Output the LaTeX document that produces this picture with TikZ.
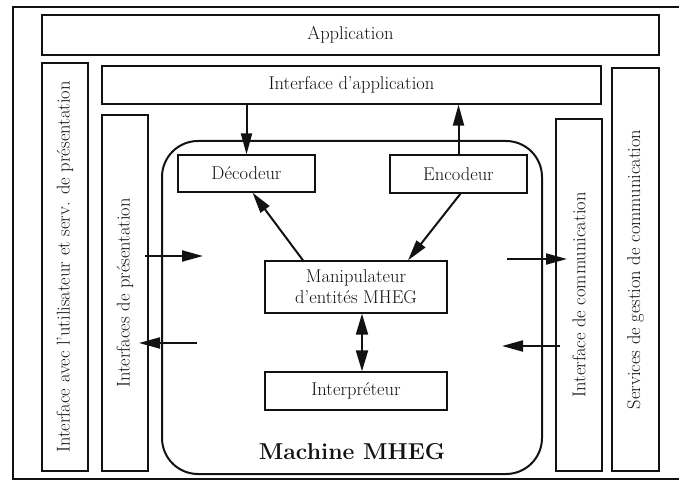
\documentclass[tikz,border=0pt]{standalone}
\usepackage{tikz}
\usetikzlibrary{arrows.meta, calc}
\definecolor{mhegInk}{RGB}{18,18,18}
\tikzset{
  % plain layer box; the vertical ones turn their text by 90 degrees
  layer/.style={
    draw=mhegInk, line width=1.2pt, inner sep=0pt,
    align=center, text=mhegInk, font=\fontsize{18.5}{21}\selectfont
  },
  vlayer/.style={layer, rotate=90},
  part/.style={layer, line width=1.3pt},
  % the rounded machine outline
  engine/.style={draw=mhegInk, line width=2pt, rounded corners=36pt, inner sep=0pt},
  % arrows
  flow/.style={-{Triangle[length=21pt,width=11pt]}, draw=mhegInk, line width=2pt},
  biflow/.style={{Triangle[length=21pt,width=12pt]}-{Triangle[length=21pt,width=12pt]},
                 draw=mhegInk, line width=2pt},
  title/.style={font=\fontsize{23}{27}\selectfont\bfseries, text=mhegInk, inner sep=1pt},
}

\begin{document}
\begin{tikzpicture}[x=1pt, y=-1pt]
\useasboundingbox (0,0) rectangle (679,481);

% ============================ frame and top layers =========================
\draw[draw=mhegInk, line width=1.8pt] (679,7) -- (13,7) -- (13,479) -- (679,479);

\node[layer, minimum width=617, minimum height=40] (app)   at (350.5,35)  {Application};
\node[layer, minimum width=499, minimum height=38] (appif) at (351.5,85)  {Interface d'application};

% ============================== side layers ================================
\node[vlayer, minimum width=408, minimum height=46] (user) at (65,267)
      {Interface avec l'utilisateur et serv. de présentation};
\node[vlayer, minimum width=356, minimum height=46] (pres) at (125,293)
      {Interfaces de présentation};
\node[vlayer, minimum width=352, minimum height=46] (comm) at (579,295)
      {Interface de communication};
\node[vlayer, minimum width=403, minimum height=47] (serv) at (635.5,269.5)
      {Services de gestion de communication};

% ============================== MHEG machine ===============================
\node[engine, minimum width=380, minimum height=333] (machine) at (352,307.5) {};
\node[title] (mtitle) at (352,452) {Machine MHEG};

\node[part, minimum width=137, minimum height=37] (dec)    at (246.5,173.5) {Décodeur};
\node[part, minimum width=137, minimum height=38] (enc)    at (458.5,174)   {Encodeur};
\node[part, minimum width=182, minimum height=52] (manip)  at (356,287)
      {Manipulateur\\d'entités MHEG};
\node[part, minimum width=182, minimum height=38] (interp) at (356,391)     {Interpréteur};

\draw[flow] (appif.south -| dec.north) -- (dec.north);
\draw[flow] (enc.north) -- (appif.south -| enc.north);
\draw[flow] ($(manip.north)+(-53,0)$) -- ($(dec.south)+(6,0)$);
\draw[flow] ($(enc.south)+(2,0)$) -- ($(manip.north)+(52,0)$);
\draw[biflow] ($(manip.south)+(6,0)$) -- ($(interp.north)+(6,0)$);

% ====================== exchanges with the side layers =====================
\coordinate (presOut) at (145,256);
\coordinate (machInL) at (203,256);
\coordinate (machOutL) at (197,343);
\coordinate (presIn)  at (139,343);
\coordinate (machOutR) at (507,259);
\coordinate (commIn)   at (567,259);
\coordinate (commOut)  at (560,346);
\coordinate (machInR)  at (502,346);

\draw[flow] (presOut)  -- (machInL);
\draw[flow] (machOutL) -- (presIn);
\draw[flow] (machOutR) -- (commIn);
\draw[flow] (commOut)  -- (machInR);

\end{tikzpicture}
\end{document}
